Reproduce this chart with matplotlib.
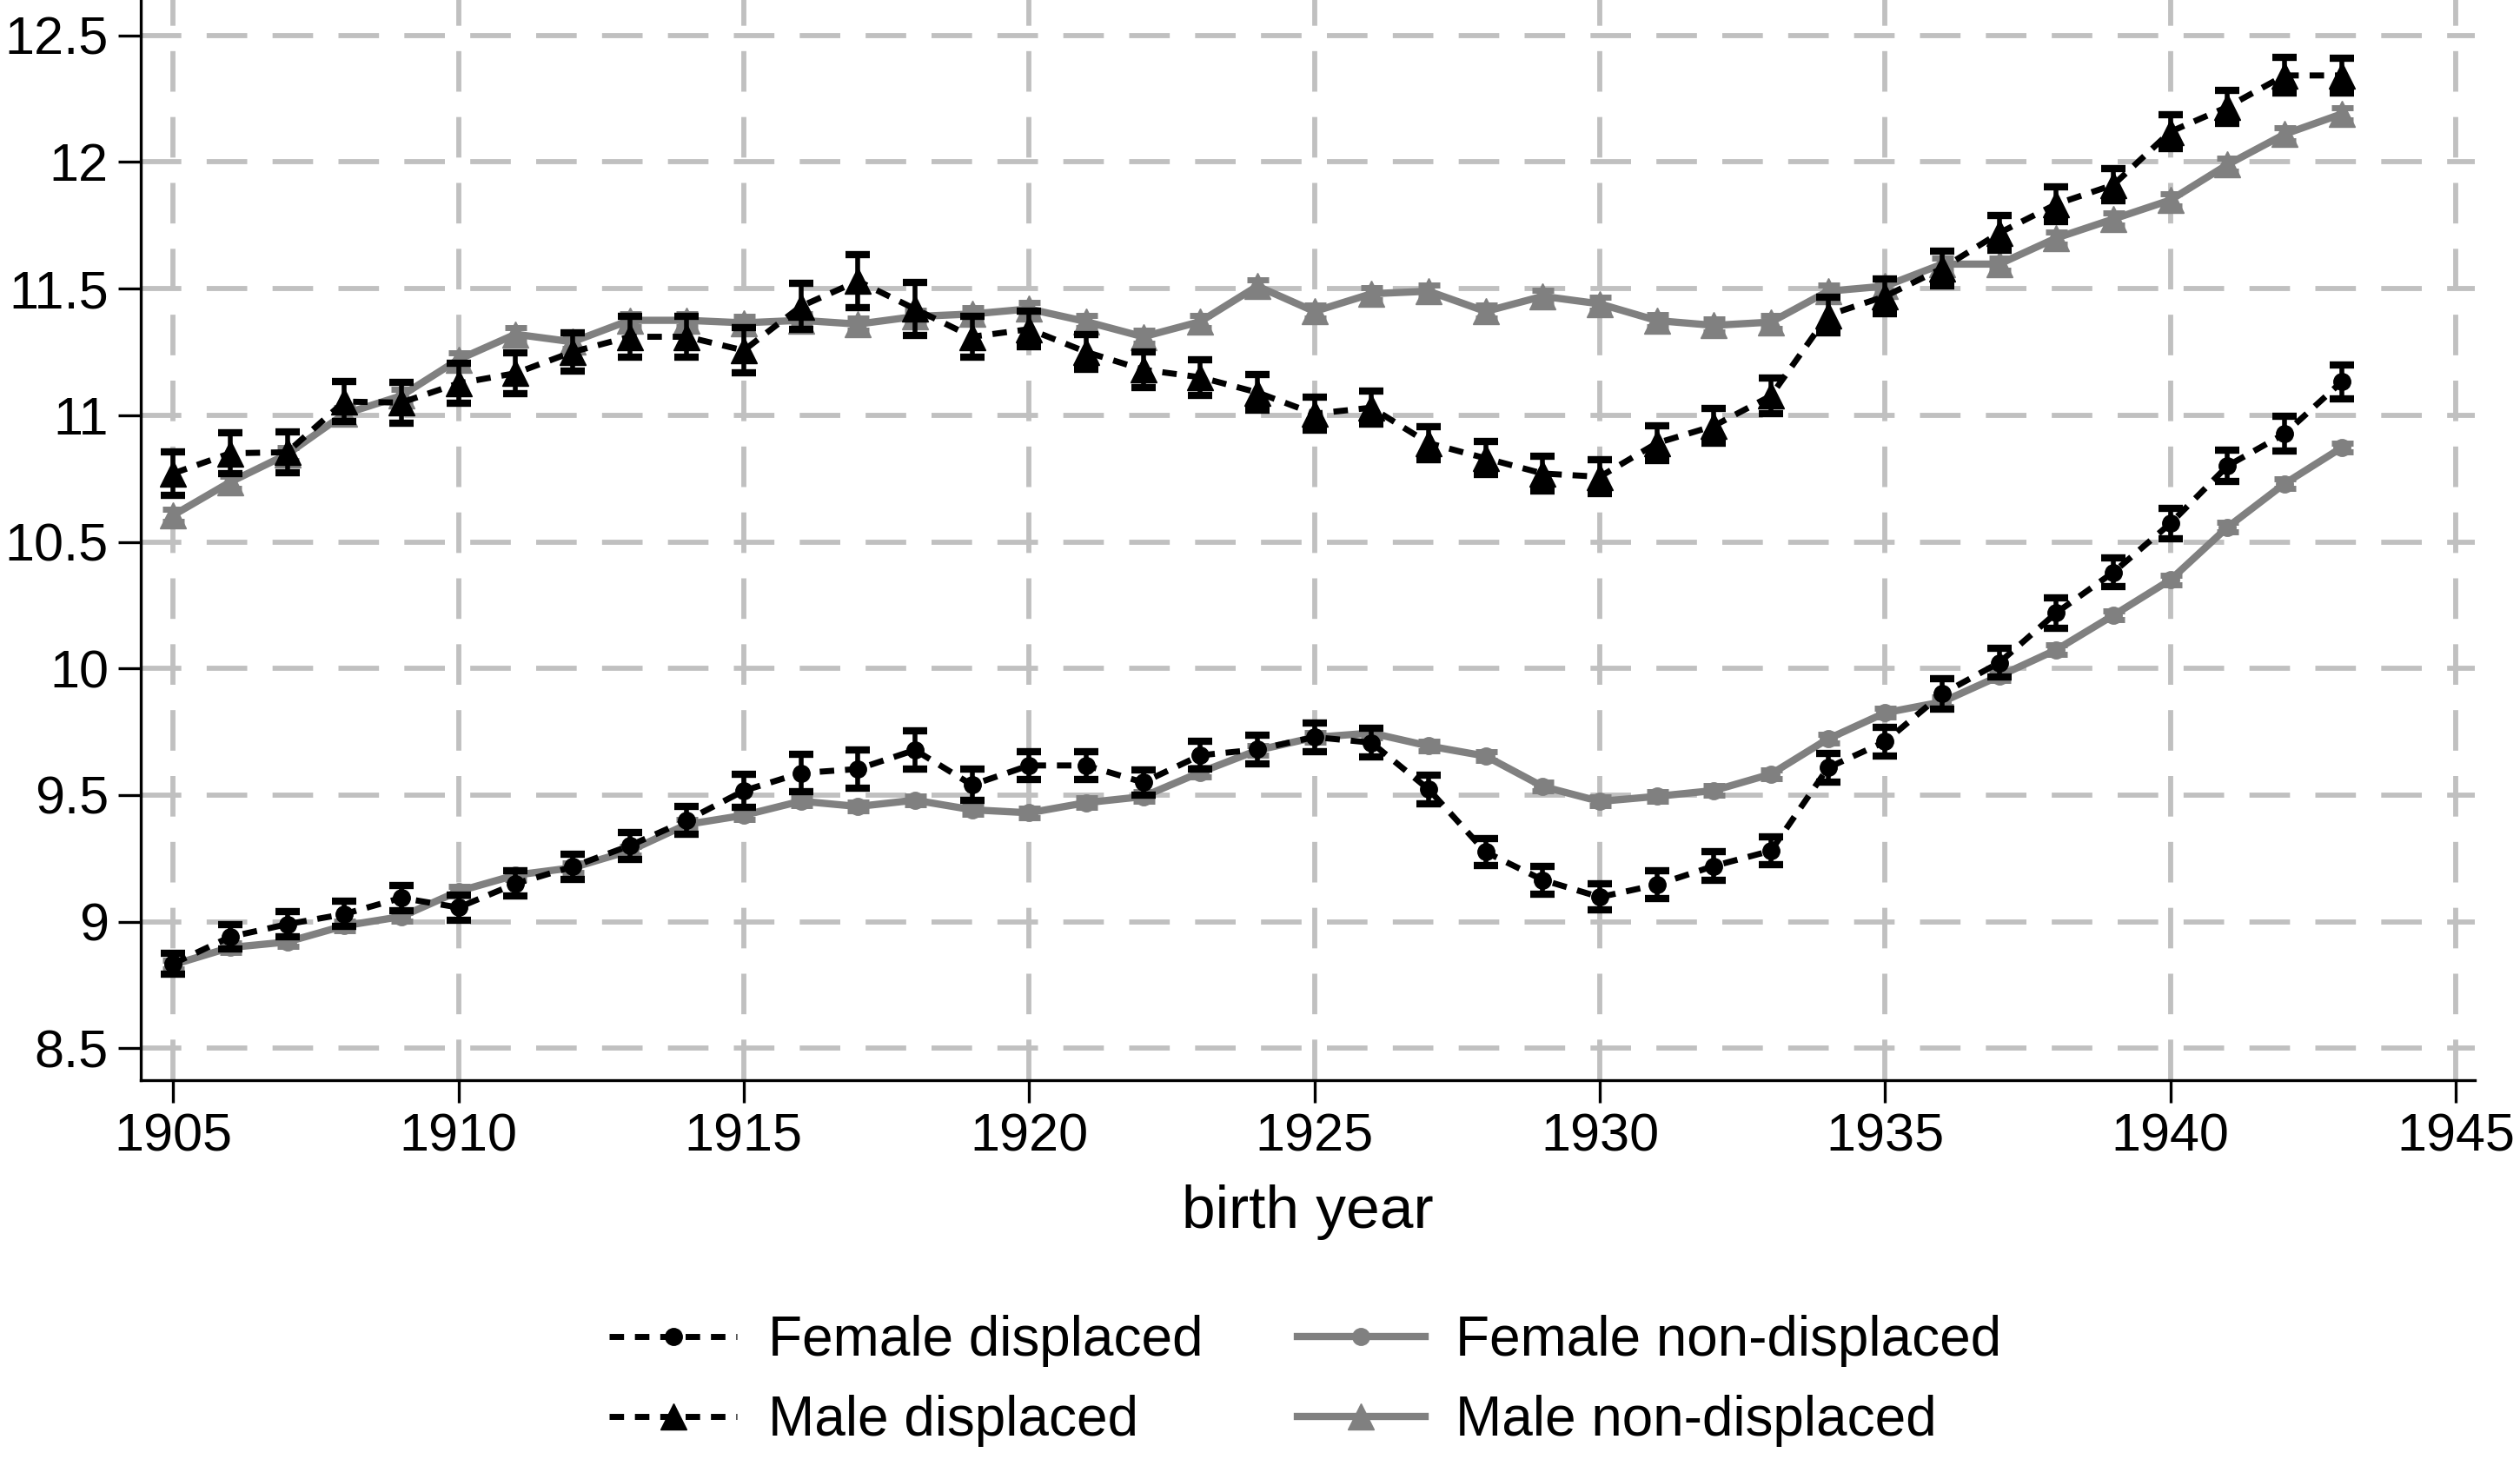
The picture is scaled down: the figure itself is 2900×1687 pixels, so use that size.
import matplotlib
matplotlib.use("Agg")
import matplotlib.pyplot as plt
from matplotlib.ticker import FuncFormatter

plt.rcParams['font.family'] = ['Liberation Sans', 'DejaVu Sans']

# birth years
years = list(range(1905, 1944))

female_disp = [8.834, 8.94, 8.99, 9.03, 9.094, 9.056, 9.15, 9.217, 9.30, 9.40,
               9.517, 9.587, 9.603, 9.678, 9.54, 9.617, 9.617, 9.55, 9.657, 9.68,
               9.729, 9.707, 9.523, 9.275, 9.165, 9.097, 9.146, 9.22, 9.28, 9.608,
               9.711, 9.90, 10.023, 10.22, 10.38, 10.573, 10.80, 10.927, 11.132]
female_disp_err = [0.042, 0.047, 0.05, 0.05, 0.05, 0.049, 0.05, 0.05, 0.053, 0.054,
                   0.064, 0.074, 0.075, 0.075, 0.062, 0.054, 0.054, 0.051, 0.054, 0.055,
                   0.056, 0.057, 0.056, 0.053, 0.055, 0.051, 0.055, 0.057, 0.055, 0.057,
                   0.057, 0.059, 0.058, 0.06, 0.057, 0.061, 0.061, 0.069, 0.068]

female_nondisp = [8.83, 8.898, 8.92, 8.984, 9.02, 9.12, 9.184, 9.213, 9.28, 9.384,
                  9.42, 9.476, 9.455, 9.48, 9.442, 9.43, 9.47, 9.494, 9.59, 9.677,
                  9.728, 9.745, 9.694, 9.654, 9.534, 9.475, 9.495, 9.518, 9.583, 9.722,
                  9.825, 9.868, 9.97, 10.074, 10.21, 10.35, 10.558, 10.73, 10.872]
female_nondisp_err = [0.018] * 39

male_disp = [10.77, 10.85, 10.854, 11.054, 11.05, 11.126, 11.166, 11.25, 11.31, 11.31,
             11.256, 11.43, 11.53, 11.42, 11.31, 11.34, 11.25, 11.18, 11.15, 11.09,
             11.006, 11.03, 10.89, 10.83, 10.77, 10.757, 10.89, 10.958, 11.077, 11.395,
             11.47, 11.58, 11.72, 11.834, 11.91, 12.12, 12.218, 12.342, 12.342]
male_disp_err = [0.085, 0.08, 0.08, 0.08, 0.08, 0.08, 0.08, 0.075, 0.08, 0.08,
                 0.09, 0.09, 0.105, 0.105, 0.08, 0.07, 0.07, 0.07, 0.07, 0.07,
                 0.065, 0.065, 0.065, 0.065, 0.068, 0.068, 0.07, 0.07, 0.07, 0.07,
                 0.068, 0.068, 0.07, 0.068, 0.064, 0.067, 0.066, 0.07, 0.068]

male_nondisp = [10.605, 10.736, 10.846, 11.005, 11.077, 11.22, 11.32, 11.29, 11.375, 11.375,
                11.365, 11.375, 11.36, 11.39, 11.40, 11.42, 11.37, 11.31, 11.37, 11.51,
                11.41, 11.48, 11.49, 11.41, 11.47, 11.44, 11.374, 11.355, 11.368, 11.49,
                11.51, 11.597, 11.597, 11.70, 11.775, 11.85, 11.99, 12.11, 12.19]
male_nondisp_err = [0.025] * 39

x_ticks = [1905, 1910, 1915, 1920, 1925, 1930, 1935, 1940, 1945]
y_ticks = [8.5, 9, 9.5, 10, 10.5, 11, 11.5, 12, 12.5]

black = "black"
gray = "#808080"
dash = (0, (2.4, 1.8))

fig = plt.figure(figsize=(29, 16.87), dpi=100)
ax = fig.add_axes([0.056, 0.263, 0.926, 0.737])

# non-displaced (gray, solid)
ax.errorbar(years, female_nondisp, yerr=female_nondisp_err, fmt='none',
            ecolor=gray, elinewidth=3.5, capsize=9, capthick=5, zorder=3)
ax.errorbar(years, male_nondisp, yerr=male_nondisp_err, fmt='none',
            ecolor=gray, elinewidth=3.5, capsize=9, capthick=5, zorder=3)
l3, = ax.plot(years, female_nondisp, color=gray, lw=6, marker='o', ms=14,
              label="Female non-displaced", zorder=3)
l4, = ax.plot(years, male_nondisp, color=gray, lw=6, marker='^', ms=21,
              label="Male non-displaced", zorder=3)

# displaced (black, dashed)
ax.errorbar(years, female_disp, yerr=female_disp_err, fmt='none',
            ecolor=black, elinewidth=4, capsize=10, capthick=6, zorder=4)
ax.errorbar(years, male_disp, yerr=male_disp_err, fmt='none',
            ecolor=black, elinewidth=4, capsize=10, capthick=6, zorder=4)
l1, = ax.plot(years, female_disp, color=black, lw=5, ls=dash, marker='o', ms=14,
              label="Female displaced", zorder=4)
l2, = ax.plot(years, male_disp, color=black, lw=5, ls=dash, marker='^', ms=21,
              label="Male displaced", zorder=4)

ax.set_xlim(1904.44, 1945.33)
ax.set_ylim(8.373, 12.64)
ax.set_xticks(x_ticks)
ax.set_yticks(y_ticks)
ax.yaxis.set_major_formatter(FuncFormatter(lambda v, p: "%g" % v))

ax.grid(True, color="#c0c0c0", ls=(0, (8, 5)), lw=4.2, zorder=1)
ax.set_axisbelow(True)
for s in ["top", "right"]:
    ax.spines[s].set_visible(False)
for s in ["left", "bottom"]:
    ax.spines[s].set_linewidth(2.4)
ax.tick_params(axis='both', labelsize=44, length=19, width=2.4, pad=8, direction='out')

ax.set_xlabel("birth year", fontsize=50, labelpad=18)

fig.legend([l1, l2, l3, l4],
           ["Female displaced", "Male displaced", "Female non-displaced", "Male non-displaced"],
           loc='center', bbox_to_anchor=(0.518, 0.058), ncol=2, frameon=False,
           fontsize=46, handlelength=2.3, handletextpad=0.55, columnspacing=1.7,
           labelspacing=0.5, numpoints=1)

fig.savefig("out.png", dpi=100)
